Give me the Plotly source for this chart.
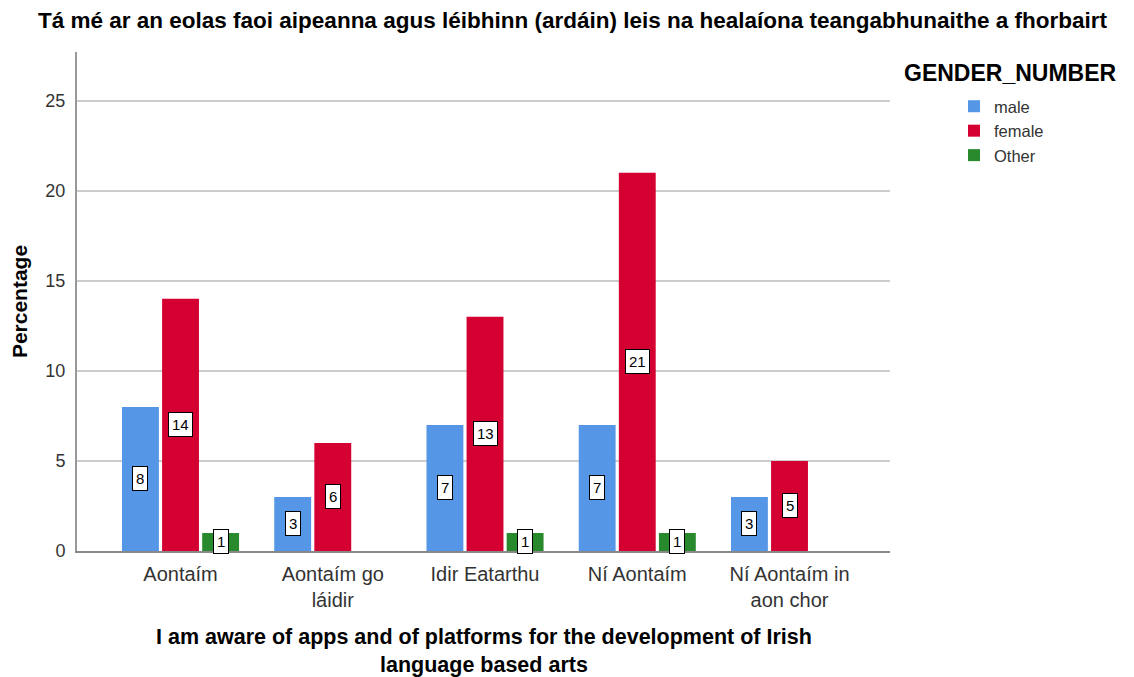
import plotly.graph_objects as go

categories = ["Aontaím", "Aontaím go<br>láidir", "Idir Eatarthu", "Ní Aontaím", "Ní Aontaím in<br>aon chor"]
male = [8, 3, 7, 7, 3]
female = [14, 6, 13, 21, 5]
other = [1, None, 1, 1, None]
x_title = "I am aware of apps and of platforms for the development of Irish<br>language based arts"

series = [("male", male, "#5596E6"), ("female", female, "#D50032"), ("Other", other, "#298A2D")]
FONT = "Liberation Sans, Arial"

# screen pixel -> paper coords helpers (plot area is 77..890 x, 52..551 y)
def px(x):
    return (x - 77) / (890 - 77)


def py(y):
    return (551 - y) / (551 - 52)


fig = go.Figure()
for name, vals, col in series:
    fig.add_trace(go.Bar(
        x=categories, y=vals, name=name, marker=dict(color=col, line=dict(width=0)),
        offsetgroup=name,
    ))

# value labels in white boxes at mid-height of each bar
slot = 0.79 / 3
for i, (name, vals, col) in enumerate(series):
    for j, v in enumerate(vals):
        if v is None:
            continue
        fig.add_annotation(
            x=j + (i - 1) * slot, y=v / 2, xref="x", yref="y", text=str(v),
            showarrow=False, bgcolor="white", bordercolor="black", borderwidth=1,
            borderpad=3, font=dict(family=FONT, size=15, color="black"),
        )

# legend title
fig.add_annotation(
    x=px(1010), y=py(73), xref="paper", yref="paper", xanchor="center", yanchor="middle",
    text="<b>GENDER_NUMBER</b>", showarrow=False,
    font=dict(family=FONT, size=23, color="black"),
)

# x axis title
fig.add_annotation(
    x=0.5, y=py(651), xref="paper", yref="paper", xanchor="center", yanchor="middle",
    text="<b>%s</b>" % x_title, showarrow=False,
    font=dict(family=FONT, size=21.5, color="black"),
)

fig.update_layout(
    width=1134, height=677,
    margin=dict(l=69, r=252, t=44, b=134),
    paper_bgcolor="white", plot_bgcolor="white",
    barmode="group", bargap=0.21, bargroupgap=0.08,
    font=dict(family=FONT, size=18, color="#333333"),
    title=dict(
        text="<b>Tá mé ar an eolas faoi aipeanna agus léibhinn (ardáin) leis na healaíona teangabhunaithe a fhorbairt</b>",
        x=30 / 1134, xanchor="left", xref="container", y=1 - 12 / 677, yanchor="middle",
        font=dict(family=FONT, size=22.5, color="black"),
    ),
    legend=dict(
        x=px(954), xanchor="left", y=py(89), yanchor="top",
        font=dict(family=FONT, size=16.5, color="#333333"),
        tracegroupgap=0, itemsizing="constant",
    ),
    xaxis=dict(
        range=[-0.68, 4.66], showline=True, linecolor="#888888", linewidth=2,
        ticks="", tickfont=dict(size=20, color="#333333"), ticklabelstandoff=4,
    ),
    yaxis=dict(
        range=[0, 27.7], dtick=5, showgrid=True, gridcolor="#CCCCCC", gridwidth=2,
        showline=True, linecolor="#999999", linewidth=2, zeroline=False,
        ticks="", tickfont=dict(size=18, color="#333333"), ticklabelstandoff=6,
        title=dict(text="<b>Percentage</b>", font=dict(size=21, color="black"), standoff=12),
    ),
)

fig.write_html("out.html")
